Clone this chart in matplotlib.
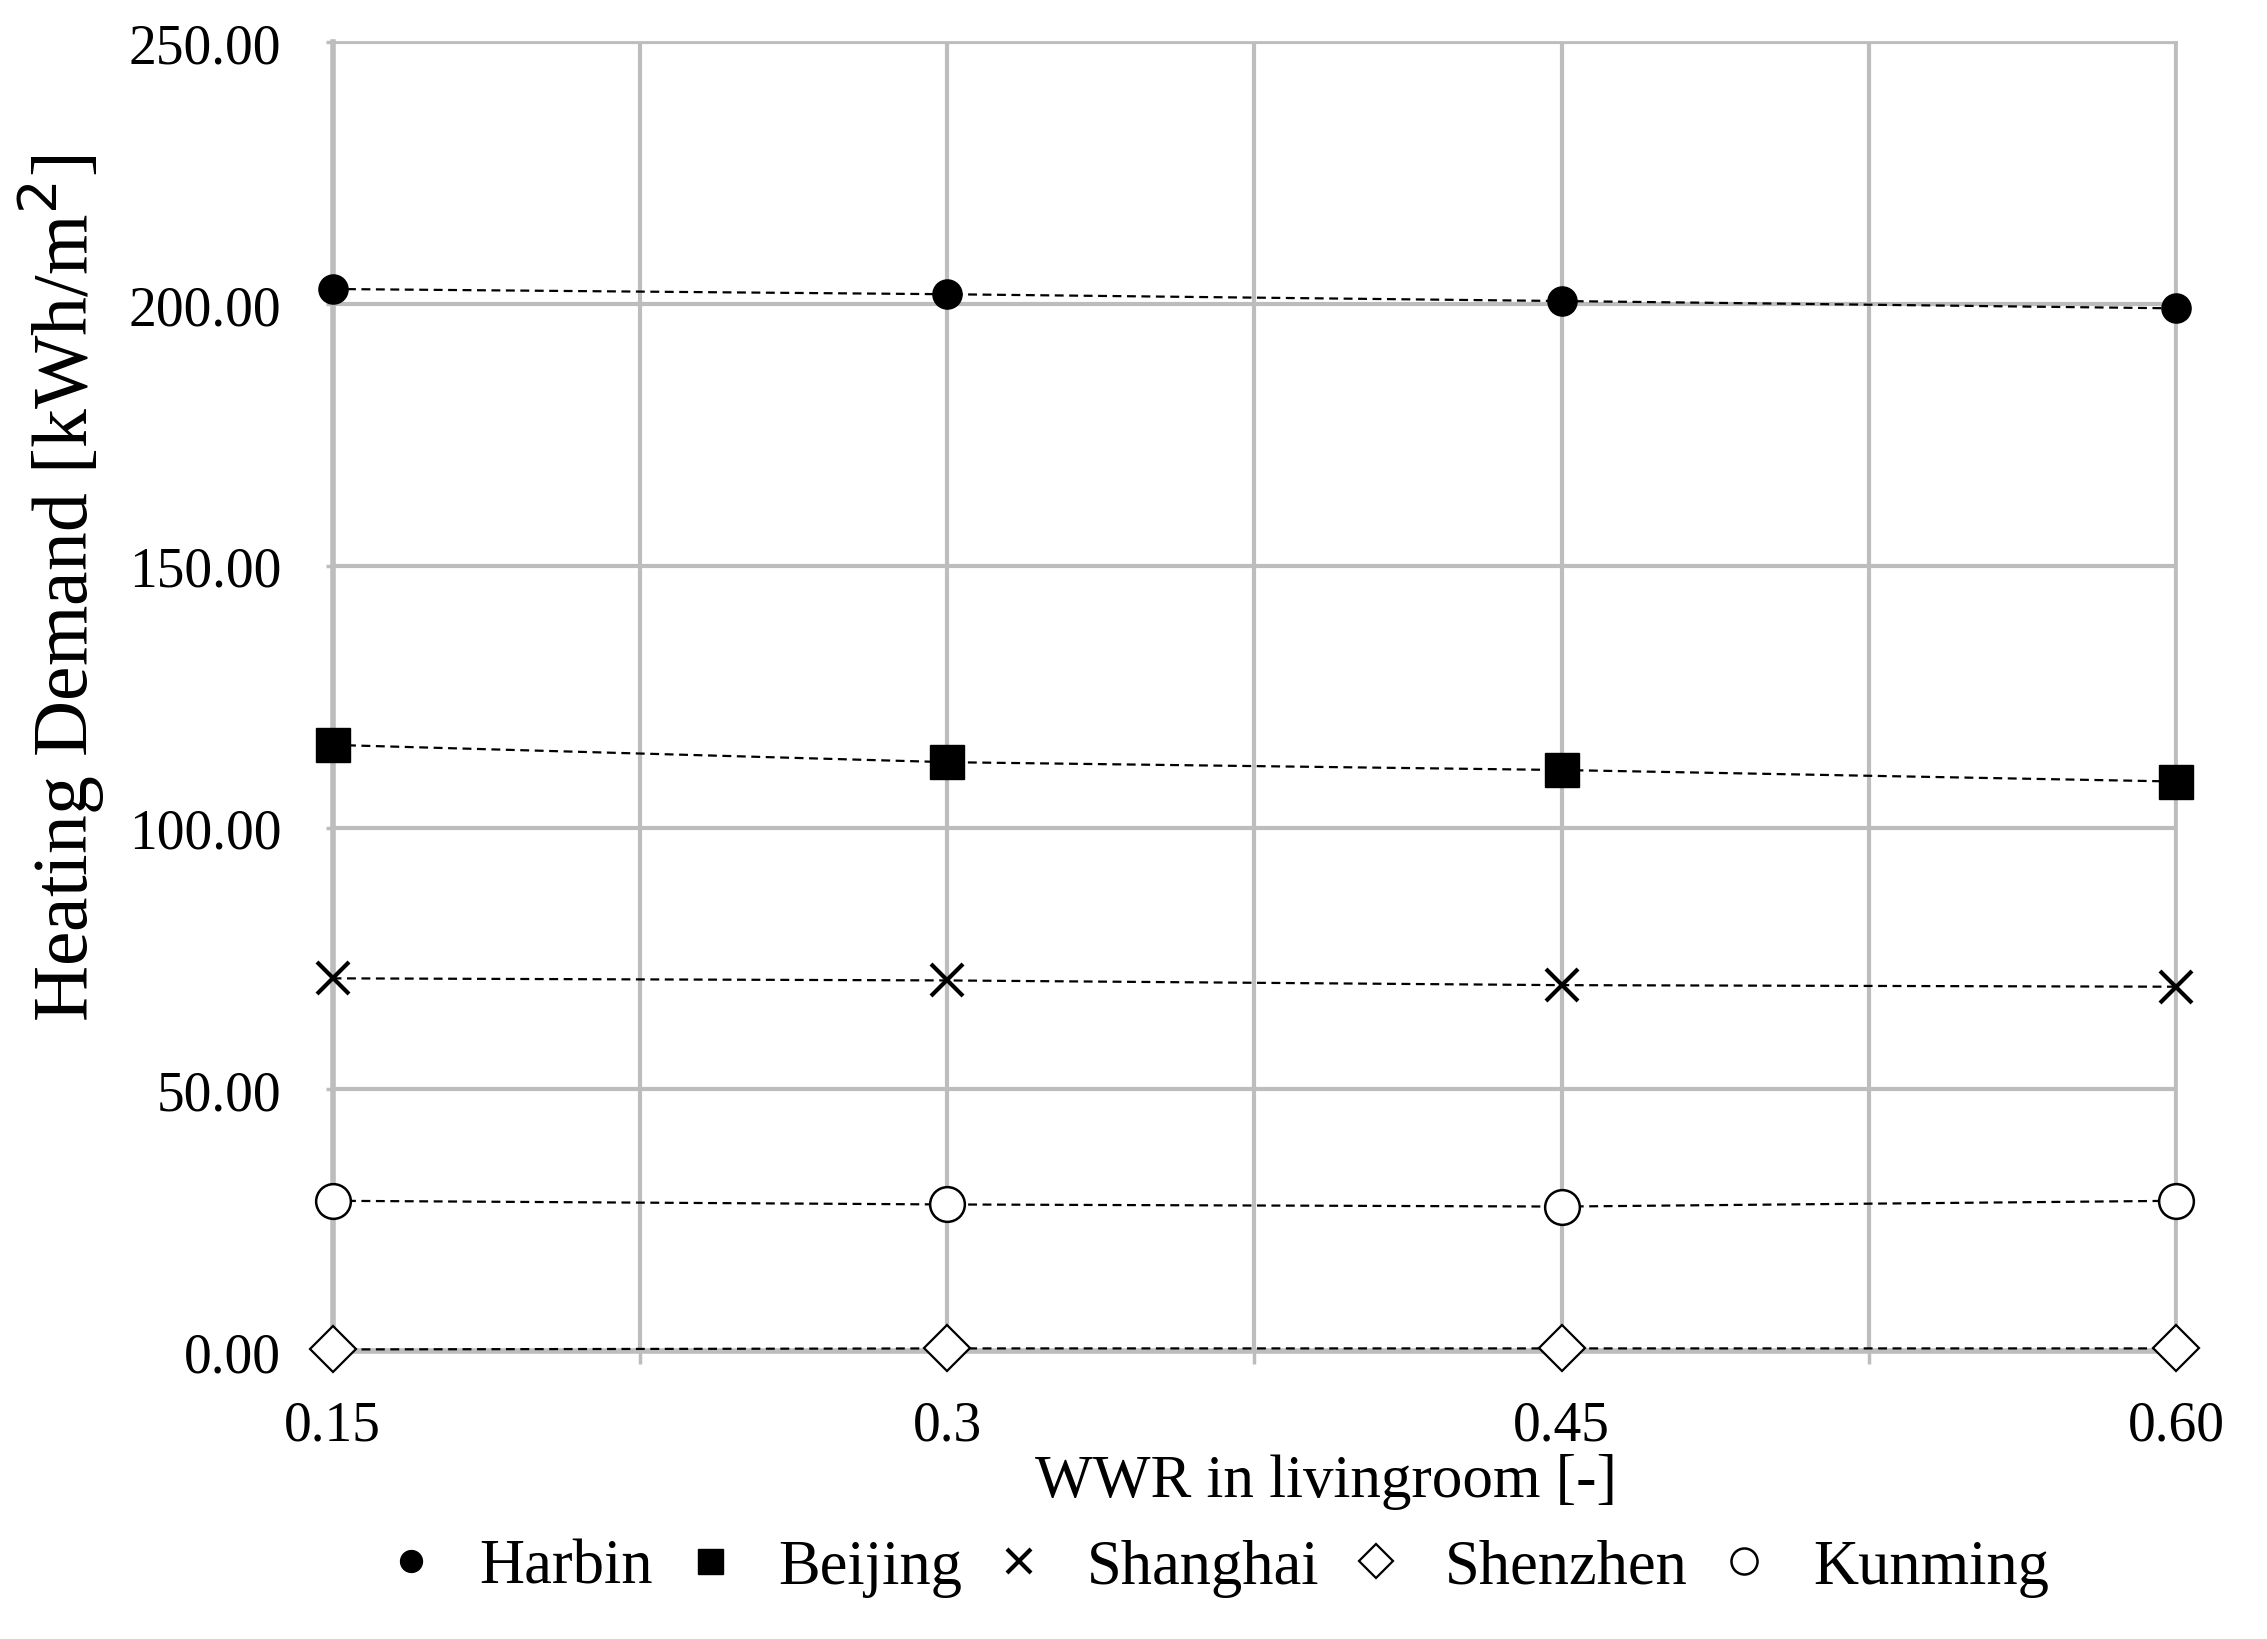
# -*- coding: utf-8 -*-
"""
Heating demand against window-to-wall ratio for five Chinese cities
"""

import matplotlib
matplotlib.use('Agg')
import matplotlib.pyplot as plt
from matplotlib.lines import Line2D
from matplotlib.ticker import FormatStrFormatter

wwr_labels = ['0.15', '0.3', '0.45', '0.60']
cities = ['Harbin', 'Beijing', 'Shanghai', 'Shenzhen', 'Kunming']
harbin = [202.9, 201.9, 200.6, 199.2]
beijing = [115.8, 112.5, 111.0, 108.8]
shanghai = [71.2, 70.8, 69.9, 69.6]
shenzhen = [0.3, 0.5, 0.5, 0.5]
kunming = [28.7, 28.0, 27.6, 28.7]

GRID = '#bdbdbd'
plt.rcParams['font.family'] = ['Liberation Serif', 'DejaVu Serif']

# marker style per city: (marker, size, face colour, edge width)
styles = {
    'Harbin': ('o', 21, 'black', 1.0),
    'Beijing': ('s', 24, 'black', 1.0),
    'Shanghai': ('x', 23, 'black', 3.0),
    'Shenzhen': ('D', 23, 'white', 1.6),
    'Kunming': ('o', 25, 'white', 1.8),
}
series = [harbin, beijing, shanghai, shenzhen, kunming]

fig = plt.figure(figsize=(22.67, 16.4), dpi=100)
ax = fig.add_axes([0.1467, 0.1756, 0.960 - 0.1467, 0.9735 - 0.1756])

x = list(range(len(wwr_labels)))
for name, values in zip(cities, series):
    mk, ms, fc, mew = styles[name]
    ax.plot(x, values, linestyle=(0, (4, 2.5)), color='black', lw=1.6,
            zorder=3)
    ax.plot(x, values, linestyle='none', marker=mk, markersize=ms,
            markerfacecolor=fc, markeredgecolor='black',
            markeredgewidth=mew, zorder=4, clip_on=False)

ax.set_xlim(0, len(wwr_labels) - 1)
ax.set_ylim(0, 250)
ax.set_xticks(x)
ax.set_xticklabels(wwr_labels)
ax.set_xticks([0.5, 1.5, 2.5], minor=True)
ax.set_yticks(range(0, 251, 50))
ax.yaxis.set_major_formatter(FormatStrFormatter('%.2f'))

ax.grid(True, which='both', axis='x', color=GRID, lw=3.0, zorder=1)
ax.grid(True, which='major', axis='y', color=GRID, lw=3.0, zorder=1)
ax.set_axisbelow(True)

for side in ['top', 'right']:
    ax.spines[side].set_color(GRID)
    ax.spines[side].set_linewidth(2.0)
for side in ['left', 'bottom']:
    ax.spines[side].set_color(GRID)
    ax.spines[side].set_linewidth(4.0)

ax.tick_params(axis='x', which='both', direction='out', length=9, width=2.5,
               color=GRID, labelsize=40, pad=26)
ax.tick_params(axis='y', which='major', direction='out', length=5, width=2.5,
               color=GRID, labelsize=40, pad=32)

fig.text(0.585, 0.0963, 'WWR in livingroom [-]', fontsize=44,
         ha='center', va='center')
fig.text(0.027, 0.641, 'Heating Demand [kWh/m$^2$]', fontsize=56,
         rotation=90, ha='center', va='center')

handles = []
for name in cities:
    mk, ms, fc, mew = styles[name]
    handles.append(Line2D([], [], linestyle='none', marker=mk, markersize=ms,
                          markerfacecolor=fc, markeredgecolor='black',
                          markeredgewidth=mew))
fig.legend(handles, cities, loc='center', bbox_to_anchor=(0.537, 0.0433),
           ncol=5, frameon=False, fontsize=45, markerscale=0.75,
           handlelength=0.8, handletextpad=0.7, columnspacing=0.5)

fig.savefig('out.png', dpi=100)
